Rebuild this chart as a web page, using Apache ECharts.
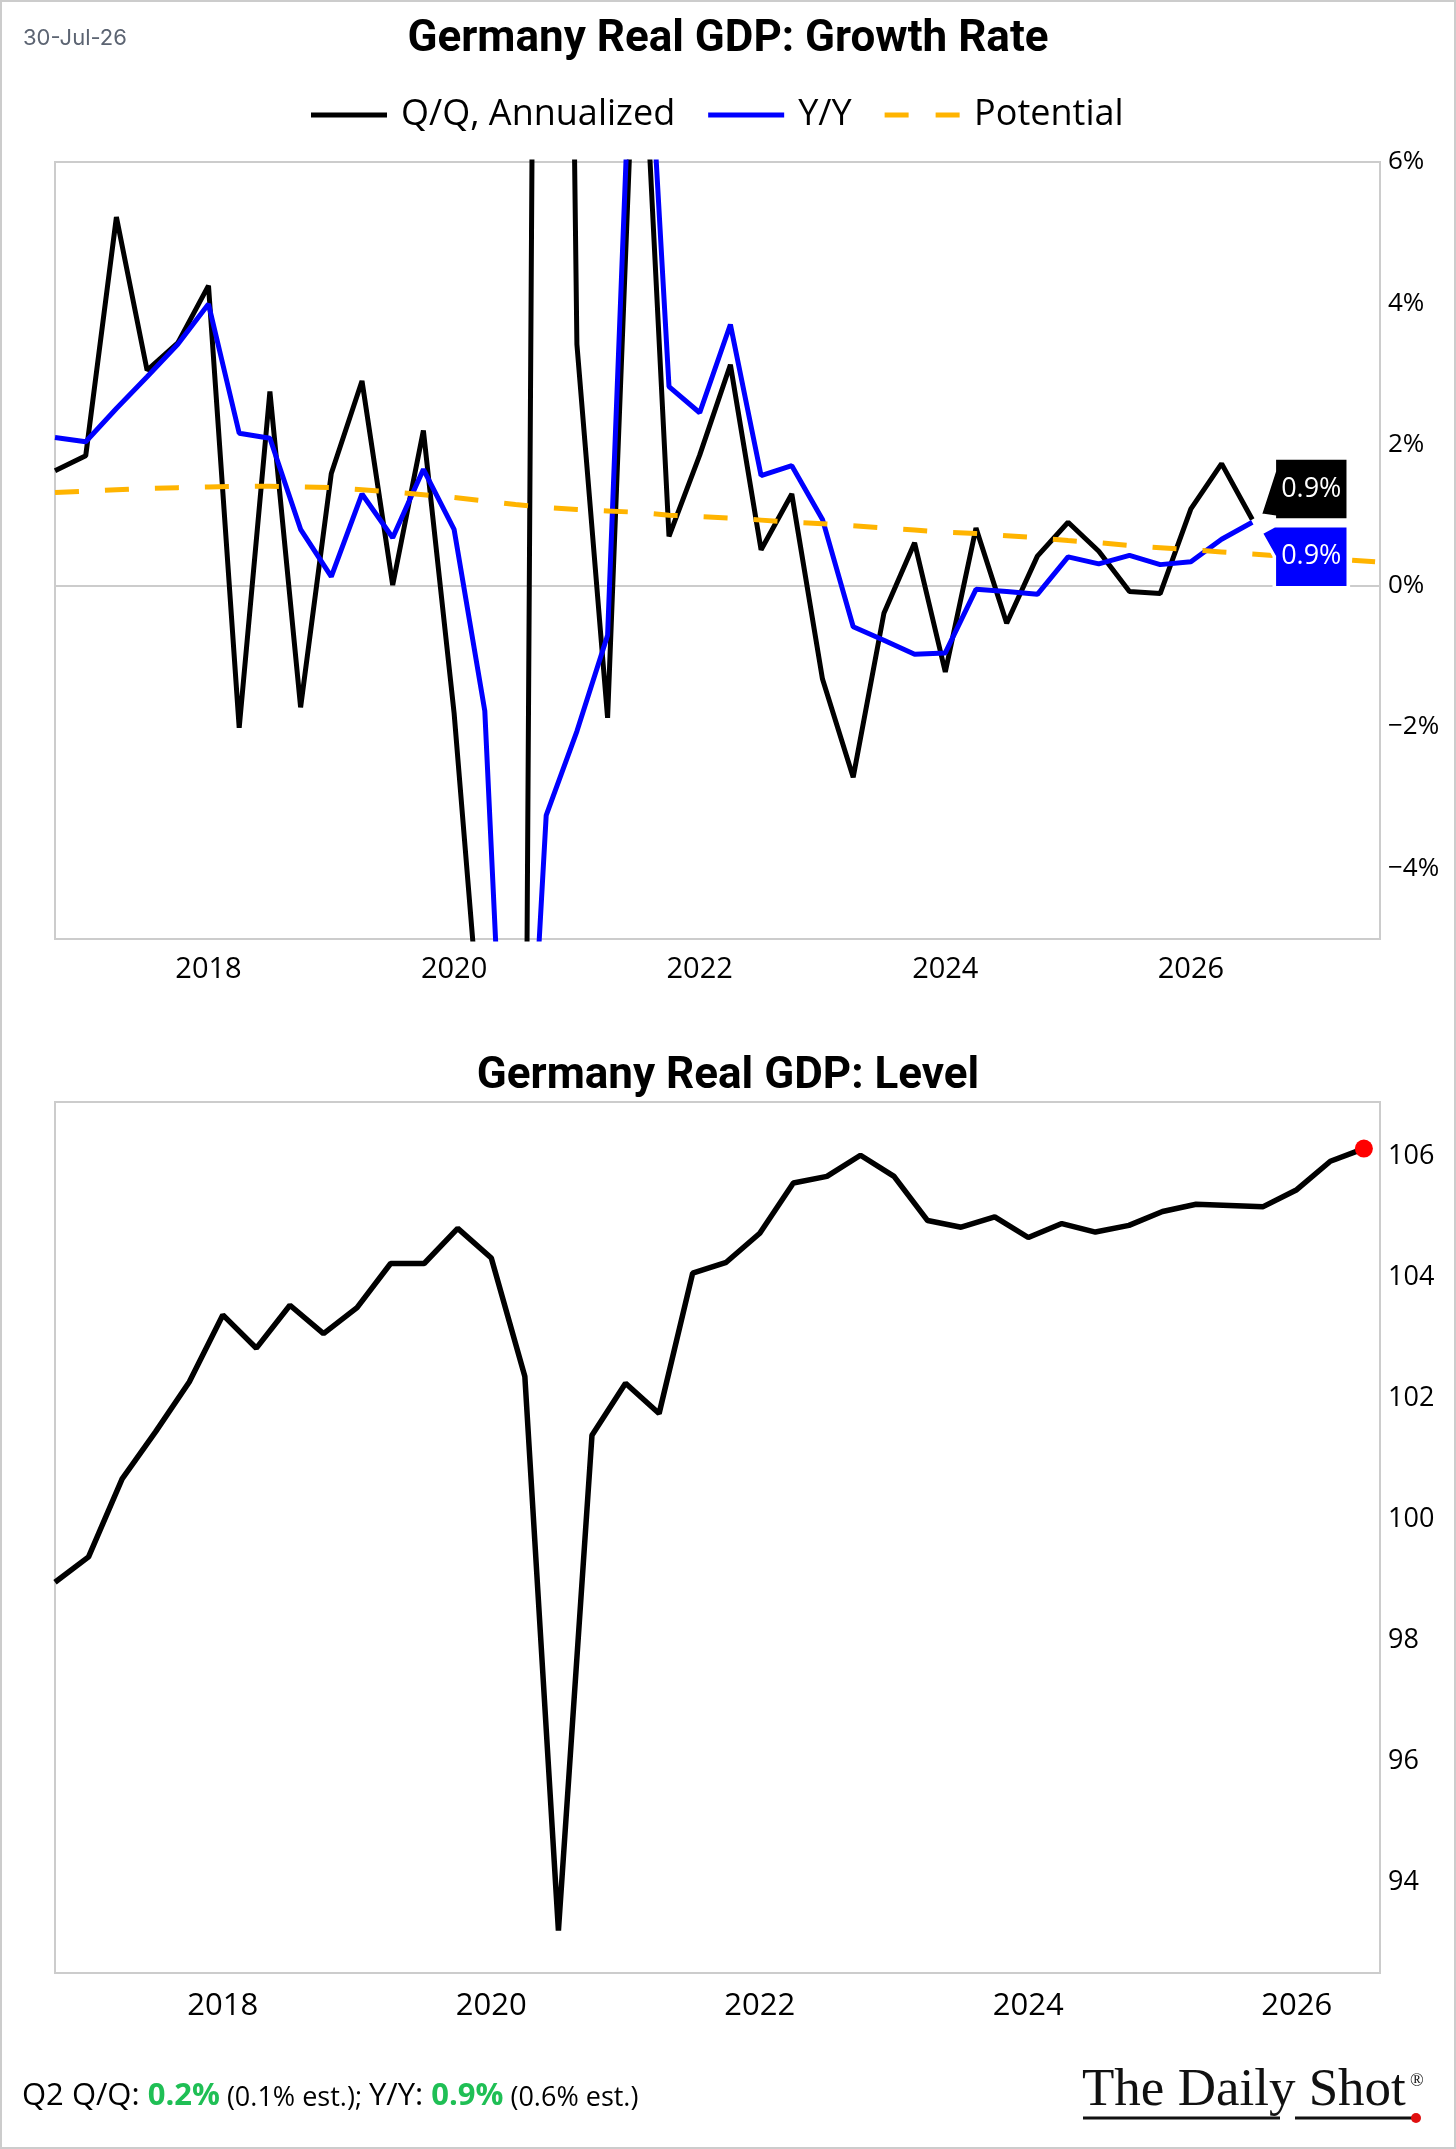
<!DOCTYPE html>
<html><head><meta charset="utf-8">
<script src="https://cdn.jsdelivr.net/npm/echarts@6/dist/echarts.min.js"></script>
<style>html,body{margin:0;padding:0;background:#fff}#c{width:1456px;height:2149px}</style>
</head><body><div id="c"></div>
<script>
// ---------------- data ----------------
const quarters = ['2016Q3','2016Q4',
  '2017Q1','2017Q2','2017Q3','2017Q4','2018Q1','2018Q2','2018Q3','2018Q4',
  '2019Q1','2019Q2','2019Q3','2019Q4','2020Q1','2020Q2','2020Q3','2020Q4',
  '2021Q1','2021Q2','2021Q3','2021Q4','2022Q1','2022Q2','2022Q3','2022Q4',
  '2023Q1','2023Q2','2023Q3','2023Q4','2024Q1','2024Q2','2024Q3','2024Q4',
  '2025Q1','2025Q2','2025Q3','2025Q4','2026Q1','2026Q2'];
const qoqAnnualized = [1.63, 1.84,
  5.22, 3.05, 3.44, 4.25, -2.01, 2.75, -1.72, 1.59,
  2.9, 0.01, 2.2, -1.8, -7.1, -31, 38, 3.42,
  -1.87, 9.3, 0.7, 1.85, 3.13, 0.51, 1.3, -1.32,
  -2.71, -0.39, 0.61, -1.22, 0.82, -0.53, 0.42, 0.9,
  0.49, -0.08, -0.11, 1.09, 1.73, 0.94];
const yoy = [2.1, 2.04,
  2.51, 2.96, 3.42, 3.99, 2.16, 2.09, 0.8, 0.13,
  1.3, 0.68, 1.65, 0.8, -1.77, -11, -3.25, -2.06,
  -0.7, 10.5, 2.82, 2.45, 3.7, 1.56, 1.7, 0.94,
  -0.58, -0.77, -0.97, -0.95, -0.05, -0.08, -0.12, 0.41,
  0.31, 0.43, 0.3, 0.34, 0.66, 0.9];
const potentialQuarters = quarters.concat(['2026Q3','2026Q4','2027Q1','2027Q2']);
const potential = [1.32, 1.34,
  1.36, 1.38, 1.39, 1.40, 1.41, 1.41, 1.40, 1.39,
  1.36, 1.33, 1.29, 1.25, 1.20, 1.15, 1.11, 1.08,
  1.06, 1.04, 1.00, 0.98, 0.96, 0.93, 0.90, 0.88,
  0.85, 0.82, 0.79, 0.76, 0.74, 0.71, 0.68, 0.64,
  0.61, 0.57, 0.54, 0.51, 0.48, 0.45, 0.42, 0.39, 0.37, 0.34];
const gdpLevel = [98.96, 99.38,
  100.67, 101.45, 102.27, 103.38, 102.83, 103.54, 103.07, 103.5,
  104.23, 104.23, 104.81, 104.32, 102.36, 93.2, 101.39, 102.25,
  101.75, 104.07, 104.25, 104.73, 105.56, 105.67, 106.02, 105.67,
  104.94, 104.83, 105.0, 104.66, 104.89, 104.75, 104.86, 105.09,
  105.21, 105.19, 105.17, 105.45, 105.92, 106.13];
const yearTicks = [2018, 2020, 2022, 2024, 2026];
const growthTicks = [-4, -2, 0, 2, 4, 6];
const levelTicks = [94, 96, 98, 100, 102, 104, 106];

// ---------------- helpers ----------------
const qx = q => +q.slice(0, 4) + (+q.slice(5)) * 0.25; // quarter-end position in years
const xy = (qs, vals) => qs.map((q, i) => [qx(q), vals[i]]);
const fmtPct = v => (v < 0 ? '\u2212' : '') + Math.abs(v) + '%';
const FONT = '"Open Sans", sans-serif';
const lastQ = quarters[quarters.length - 1];
const lastQoq = qoqAnnualized[qoqAnnualized.length - 1];
const lastYoy = yoy[yoy.length - 1];
const lastLevel = gdpLevel[gdpLevel.length - 1];

const chart = echarts.init(document.getElementById('c'), null, {renderer: 'canvas', width: 1456, height: 2149});

const axisLabelBase = {color: '#000', fontFamily: FONT};
const calloutLabel = {show: true, position: 'inside', color: '#fff', fontFamily: FONT, fontSize: 27};
const option = {
  animation: false,
  backgroundColor: '#fff',
  textStyle: {fontFamily: FONT},
  title: [
    {text: 'Germany Real GDP: Growth Rate', left: 'center', top: 18, padding: 0,
     textStyle: {fontFamily: 'Roboto', fontWeight: 'bold', fontSize: 44, lineHeight: 44, color: '#000'}},
    {text: 'Germany Real GDP: Level', left: 'center', top: 1055, padding: 0,
     textStyle: {fontFamily: 'Roboto', fontWeight: 'bold', fontSize: 44, lineHeight: 44, color: '#000'}},
    {text: '30-Jul-26', left: 23, top: 27, padding: 0,
     textStyle: {fontFamily: 'Inter', fontWeight: 'normal', fontSize: 22, lineHeight: 22, color: '#5c6472'}},
    {text: '{a|Q2 Q/Q: }{g|0.2%}{s| (0.1% est.); }{a|Y/Y: }{g|0.9%}{s| (0.6% est.)}',
     left: 22, top: 2077, padding: 0,
     textStyle: {fontWeight: 'normal', rich: {
       a: {fontFamily: FONT, fontSize: 31, lineHeight: 35, fontWeight: 'normal', color: '#000', verticalAlign: 'bottom'},
       g: {fontFamily: FONT, fontSize: 31, lineHeight: 35, fontWeight: 'bold', color: '#1fbf55', verticalAlign: 'bottom'},
       s: {fontFamily: FONT, fontSize: 27, lineHeight: 33, fontWeight: 'normal', color: '#000', verticalAlign: 'bottom'}
     }}}
  ],
  legend: {
    top: 91, left: 306, itemWidth: 76, itemHeight: 5, itemGap: 33,
    textStyle: {fontFamily: FONT, fontSize: 36, lineHeight: 38, color: '#000', padding: [0, 0, 0, 9]},
    data: [
      {name: 'Q/Q, Annualized', icon: 'rect'},
      {name: 'Y/Y', icon: 'rect'},
      {name: 'Potential', icon: 'path://M0 0 H24 V5 H0 Z M51 0 H75 V5 H51 Z'}
    ]
  },
  grid: [
    {left: 55, top: 162, right: 76, height: 777, show: true, borderColor: '#cccccc', borderWidth: 2, containLabel: false},
    {left: 55, top: 1102, right: 76, height: 871, show: true, borderColor: '#cccccc', borderWidth: 2, containLabel: false}
  ],
  xAxis: [
    {gridIndex: 0, type: 'value', min: 2016.75, max: 2027.54,
     axisLine: {show: false}, axisTick: {show: false}, splitLine: {show: false},
     axisLabel: Object.assign({}, axisLabelBase, {customValues: yearTicks, formatter: v => String(v), fontSize: 29, margin: 16})},
    {gridIndex: 1, type: 'value', min: 2016.75, max: 2026.62,
     axisLine: {show: false}, axisTick: {show: false}, splitLine: {show: false},
     axisLabel: Object.assign({}, axisLabelBase, {customValues: yearTicks, formatter: v => String(v), fontSize: 31, margin: 18})}
  ],
  yAxis: [
    {gridIndex: 0, type: 'value', position: 'right', min: -5, max: 6,
     axisLine: {show: false}, axisTick: {show: false}, splitLine: {show: false},
     axisLabel: Object.assign({}, axisLabelBase, {customValues: growthTicks, formatter: fmtPct, fontSize: 26, margin: 8})},
    {gridIndex: 1, type: 'value', position: 'right', min: 92.5, max: 106.9,
     axisLine: {show: false}, axisTick: {show: false}, splitLine: {show: false},
     axisLabel: Object.assign({}, axisLabelBase, {customValues: levelTicks, formatter: v => String(v), fontSize: 27, margin: 8})}
  ],
  series: [
    {name: 'Q/Q, Annualized', type: 'line', xAxisIndex: 0, yAxisIndex: 0, z: 2,
     data: xy(quarters, qoqAnnualized), showSymbol: false, symbol: 'none',
     lineStyle: {color: '#000', width: 5}, itemStyle: {color: '#000'},
     markLine: {silent: true, z: 1, symbol: 'none', label: {show: false},
       lineStyle: {color: '#cccccc', width: 2, type: 'solid'}, data: [{yAxis: 0}]},
     markPoint: {
       symbol: 'path://M8 -5 L22 -48 L22 -61 L96 -61 L96 0 L22 0 L22 -3 Z', symbolSize: [88, 61], symbolOffset: [52, -30.5],
       symbolKeepAspect: false, itemStyle: {color: '#000', borderColor: '#fff', borderWidth: 3},
       label: Object.assign({}, calloutLabel, {offset: [7, 0], formatter: lastQoq.toFixed(1) + '%'}),
       data: [{coord: [qx(lastQ), lastQoq]}]
     }},
    {name: 'Y/Y', type: 'line', xAxisIndex: 0, yAxisIndex: 0, z: 3,
     data: xy(quarters, yoy), showSymbol: false, symbol: 'none',
     lineStyle: {color: '#0000ff', width: 5}, itemStyle: {color: '#0000ff'},
     markPoint: {
       symbol: 'path://M9 11 L22 4 L96 4 L96 65 L22 65 L22 34 Z', symbolSize: [87, 61], symbolOffset: [52.5, 34.5],
       symbolKeepAspect: false, itemStyle: {color: '#0000ff', borderColor: '#fff', borderWidth: 3},
       label: Object.assign({}, calloutLabel, {offset: [6.5, 0], formatter: lastYoy.toFixed(1) + '%'}),
       data: [{coord: [qx(lastQ), lastYoy]}]
     }},
    {name: 'Potential', type: 'line', xAxisIndex: 0, yAxisIndex: 0, z: 4,
     data: xy(potentialQuarters, potential), showSymbol: false, symbol: 'none',
     lineStyle: {color: '#ffb400', width: 5, type: [24, 26]}, itemStyle: {color: '#ffb400'}},
    {name: 'Level', type: 'line', xAxisIndex: 1, yAxisIndex: 1, z: 2,
     data: xy(quarters, gdpLevel), showSymbol: false, symbol: 'none',
     lineStyle: {color: '#000', width: 5.5}, itemStyle: {color: '#000'},
     markPoint: {symbol: 'circle', symbolSize: 18, itemStyle: {color: '#ff0000'}, label: {show: false},
       data: [{coord: [qx(lastQ), lastLevel]}]}}
  ],
  graphic: [
    {type: 'rect', silent: true, z: 100, shape: {x: 1, y: 1, width: 1454, height: 2147},
     style: {fill: 'none', stroke: '#cccccc', lineWidth: 2}},
    {type: 'text', silent: true, x: 1082, y: 2091,
     style: {text: 'The Daily Shot', font: '53px "Liberation Serif", serif', fill: '#111', verticalAlign: 'middle'}},
    {type: 'text', silent: true, x: 1410, y: 2072,
     style: {text: '\u00AE', font: '18px "Liberation Serif", serif', fill: '#111'}},
    {type: 'line', silent: true, shape: {x1: 1083, y1: 2118, x2: 1280, y2: 2118}, style: {stroke: '#111', lineWidth: 3}},
    {type: 'line', silent: true, shape: {x1: 1295, y1: 2118, x2: 1412, y2: 2118}, style: {stroke: '#111', lineWidth: 3}},
    {type: 'circle', silent: true, shape: {cx: 1416, cy: 2118, r: 5}, style: {fill: '#e01010'}}
  ]
};
chart.setOption(option);
</script>
</body></html>
